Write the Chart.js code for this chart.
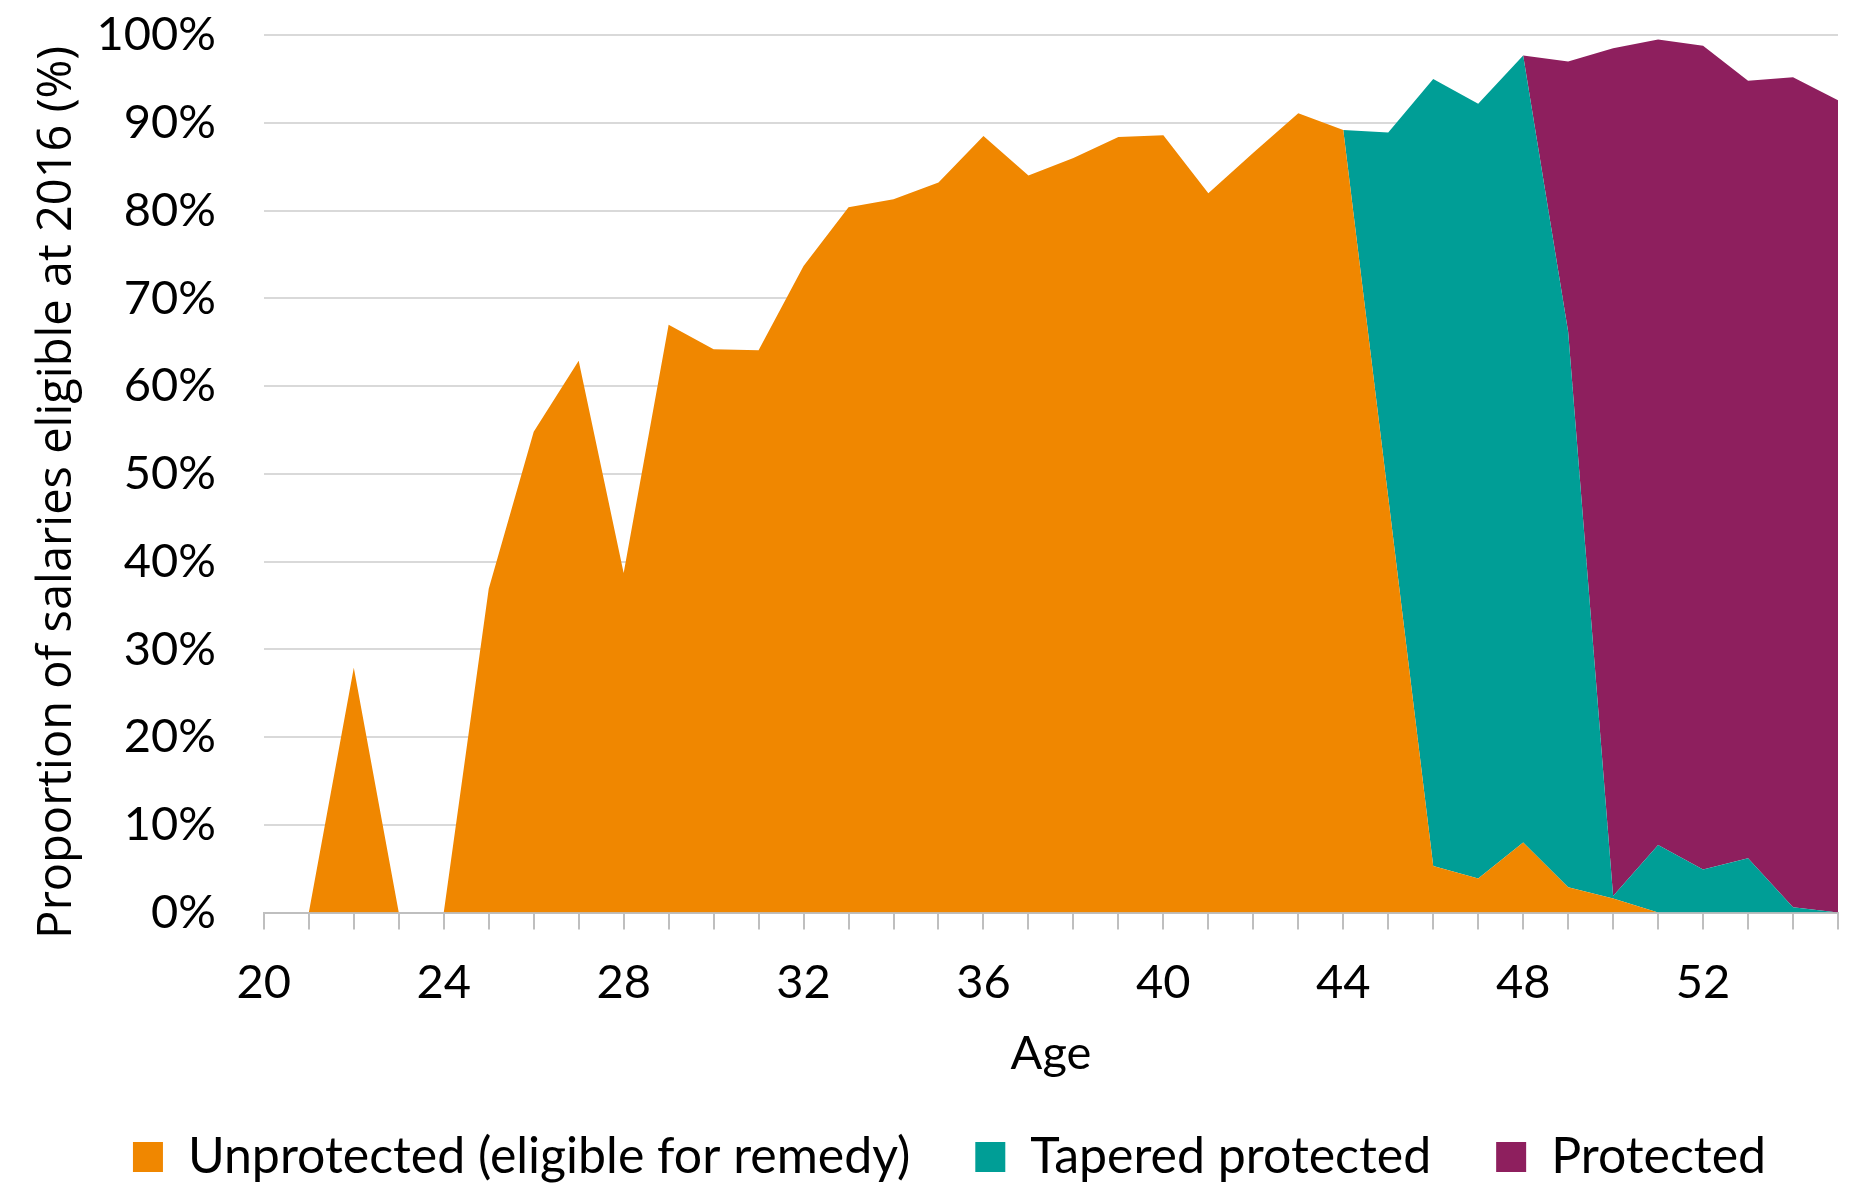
<!DOCTYPE html>
<html lang="en">
    <head>
        <meta charset="utf-8" />
        <title>Proportion of salaries eligible at 2016</title>
        <style>
            html, body { margin: 0; padding: 0; background: #ffffff; overflow: hidden; }
            #wrap { width: 1855px; height: 1184px; }
        </style>
    </head>
    <body>
        <div id="wrap"><canvas id="areas" width="1855" height="1184"></canvas></div>
        <script src="https://cdn.jsdelivr.net/npm/chart.js@4.4.1/dist/chart.umd.min.js"></script>
        <script>
            // ages 20 to 55
            var ages = [20, 21, 22, 23, 24, 25, 26, 27, 28, 29, 30, 31, 32, 33, 34, 35, 36, 37,
                        38, 39, 40, 41, 42, 43, 44, 45, 46, 47, 48, 49, 50, 51, 52, 53, 54, 55];

            var unprotected = [0, 0, 27.9, 0, 0, 36.9, 54.8, 62.9, 38.7, 67.0, 64.2, 64.1, 73.7, 80.4, 81.3, 83.2, 88.5, 84.0,
                               86.0, 88.4, 88.6, 82.0, 86.6, 91.1, 89.2, 47.3, 5.3, 3.9, 8.0, 2.9, 1.6, 0, 0, 0, 0, 0];
            var tapered = [0, 0, 0, 0, 0, 0, 0, 0, 0, 0, 0, 0, 0, 0, 0, 0, 0, 0,
                           0, 0, 0, 0, 0, 0, 0, 41.6, 89.7, 88.3, 89.7, 63.3, 0.3, 7.7, 4.9, 6.2, 0.6, 0];
            var protectedVals = [0, 0, 0, 0, 0, 0, 0, 0, 0, 0, 0, 0, 0, 0, 0, 0, 0, 0,
                                 0, 0, 0, 0, 0, 0, 0, 0, 0, 0, 0, 30.8, 96.6, 91.8, 93.9, 88.6, 94.6, 92.6];

            var seriesNames = ["Unprotected (eligible for remedy)", "Tapered protected", "Protected"];
            var colores = ["#f08700", "#009e96", "#8e1f5e"];

            var tickFont = { family: "Lato", size: 47 };

            function area(i, values, fillTo) {
                return {
                    label: seriesNames[i],
                    data: values,
                    backgroundColor: colores[i],
                    borderColor: colores[i],
                    borderWidth: 0,
                    pointRadius: 0,
                    tension: 0,
                    fill: fillTo
                };
            }

            new Chart(document.getElementById("areas").getContext("2d"), {
                type: "line",
                data: {
                    labels: ages,
                    datasets: [
                        area(0, unprotected, "origin"),
                        area(1, tapered, "-1"),
                        area(2, protectedVals, "-1")
                    ]
                },
                options: {
                    responsive: false,
                    animation: false,
                    layout: { padding: { top: 0, right: 17, left: 61, bottom: -8 } },
                    plugins: {
                        tooltip: { enabled: false },
                        legend: {
                            position: "bottom",
                            labels: {
                                font: { family: "Lato", size: 50 },
                                color: "#000000",
                                boxWidth: 30,
                                boxHeight: 30,
                                padding: 65
                            }
                        }
                    },
                    scales: {
                        x: {
                            offset: false,
                            grid: { drawOnChartArea: false, drawTicks: true, tickLength: 17, color: "#bfbfbf", lineWidth: 2 },
                            border: { display: true, color: "#bfbfbf", width: 2 },
                            ticks: {
                                autoSkip: false,
                                maxRotation: 0,
                                font: { family: "Lato", size: 47, lineHeight: 1.915 },
                                color: "#000000",
                                padding: 8,
                                callback: function (v, idx) {
                                    return (ages[idx] - 20) % 4 === 0 ? String(ages[idx]) : "";
                                }
                            },
                            title: { display: true, text: "Age", font: tickFont, color: "#000000", padding: { top: -10, bottom: -15 } }
                        },
                        y: {
                            stacked: true,
                            min: 0,
                            max: 100,
                            grid: { drawTicks: true, tickLength: 41, tickColor: "rgba(0,0,0,0)", color: "#d9d9d9", lineWidth: 2 },
                            border: { display: false },
                            ticks: {
                                stepSize: 10,
                                font: tickFont,
                                color: "#000000",
                                padding: 7,
                                callback: function (v) { return v + "%"; }
                            },
                            title: {
                                display: true,
                                text: "Proportion of salaries eligible at 2016 (%)   ",
                                font: { family: "Open Sans", size: 47 },
                                color: "#000000",
                                padding: { top: -32, bottom: 4 }
                            }
                        }
                    }
                }
            });
        </script>
    </body>
</html>
